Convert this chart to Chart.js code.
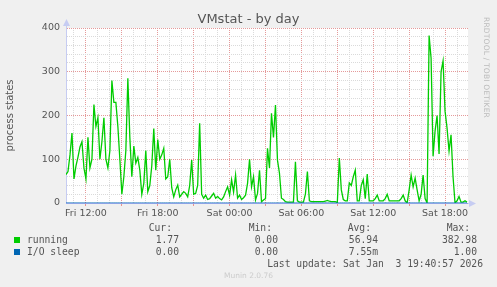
<!DOCTYPE html>
<html lang="en">
<head>
    <meta charset="UTF-8">
    <title>VMstat - by day</title>
    <script src="https://cdn.jsdelivr.net/npm/chart.js"></script>
    <style>
        body { margin: 0; background: #f0f0f0; }
        #wrap { position: relative; width: 497px; height: 287px; overflow: hidden; font-family: 'DejaVu Sans', sans-serif; color: #555; }
        #myChart { position: absolute; left: 0; top: 0; }
        .title { position: absolute; top: 11px; left: 0; width: 497px; text-align: center; font-size: 13px; line-height: 16px; color: #555; }
        .vendor { position: absolute; left: 482px; top: 17px; writing-mode: vertical-rl; font-size: 7.5px; color: #bbb; letter-spacing: 0.2px; }
        .mono { position: absolute; font-family: 'DejaVu Sans Mono', monospace; font-size: 9.7px; line-height: 12px; white-space: pre; color: #555; }
        .r { text-align: right; }
        .sq { position: absolute; width: 6px; height: 6px; }
        .munin { position: absolute; top: 271px; left: 0; width: 497px; text-align: center; font-size: 7.5px; color: #ccc; }
    </style>
</head>
<body>
<div id="wrap">
    <canvas id="myChart" width="497" height="287"></canvas>
    <div class="title">VMstat - by day</div>
    <div class="vendor">RRDTOOL / TOBI OETIKER</div>
    <div id="legend"></div>
    <div class="mono" style="right:14px; top:258px;">Last update: Sat Jan  3 19:40:57 2026</div>
    <div class="munin">Munin 2.0.76</div>
</div>

<script>
    // hours since Fri 00:00, one sample every 10 minutes
    const startHour = 10 + 20 / 60;
    const stepHours = 10 / 60;

    const running = [
        65, 72, 110, 160, 55, 85, 105, 128, 140, 80,
        55, 150, 80, 100, 225, 175, 195, 100, 140, 195,
        100, 80, 120, 280, 230, 230, 175, 100, 20, 60,
        120, 285, 150, 60, 130, 91, 104, 75, 20, 45,
        120, 26, 40, 85, 170, 75, 145, 100, 110, 125,
        55, 60, 100, 35, 14, 30, 41, 14, 20, 26,
        22, 14, 40, 98, 20, 22, 40, 182, 20, 11,
        18, 8, 10, 16, 22, 11, 15, 10, 7, 14,
        26, 37, 18, 53, 25, 64, 11, 18, 8, 12,
        18, 45, 100, 37, 60, 7, 22, 75, 3, 7,
        10, 125, 80, 205, 150, 224, 98, 68, 11, 8,
        3, 2, 2, 2, 2, 94, 5, 2, 2, 2,
        20, 72, 5, 3, 3, 3, 3, 3, 3, 3,
        4, 6, 4, 3, 3, 3, 1, 103, 30, 8,
        5, 5, 46, 40, 60, 75, 5, 5, 40, 53,
        10, 66, 5, 5, 5, 10, 18, 5, 5, 5,
        10, 20, 5, 5, 5, 5, 5, 5, 10, 18,
        5, 0, 30, 64, 37, 57, 30, 5, 20, 64,
        10, 0, 383, 331, 107, 165, 200, 112, 300, 325,
        210, 171, 119, 156, 60, 0, 5, 15, 2, 2,
        5, 2
    ];
    const ioSleep = running.map(() => 0);

    const xTickHours = [12, 18, 24, 30, 36, 42];
    const xTickLabels = ['Fri 12:00', 'Fri 18:00', 'Sat 00:00', 'Sat 06:00', 'Sat 12:00', 'Sat 18:00'];
    const yTickLabels = [0, 100, 200, 300, 400];

    const seriesNames = ['running', 'I/O sleep'];
    const seriesColors = ['#00cc00', '#0066b3'];
    const statHeads = ['Cur:', 'Min:', 'Avg:', 'Max:'];
    const stats = [
        ['1.77', '0.00', '56.94', '382.98'],
        ['0.00', '0.00', '7.55m', '1.00']
    ];

    // legend table under the graph
    const legend = document.getElementById('legend');
    const headEnds = [172, 272, 371, 470];
    const valEnds = [179, 278, 378, 477];
    let html = '';
    statHeads.forEach((h, i) => {
        html += `<div class="mono r" style="right:${497 - headEnds[i]}px; top:222px;">${h}</div>`;
    });
    seriesNames.forEach((name, s) => {
        const top = 234 + s * 12;
        html += `<div class="sq" style="left:14px; top:${top + 3}px; background:${seriesColors[s]};"></div>`;
        html += `<div class="mono" style="left:27px; top:${top}px;">${name}</div>`;
        stats[s].forEach((v, i) => {
            html += `<div class="mono r" style="right:${497 - valEnds[i]}px; top:${top}px;">${v}</div>`;
        });
    });
    legend.innerHTML = html;

    const toPoints = arr => arr.map((v, i) => ({ x: startHour + i * stepHours, y: v }));

    const axisBlue = '#c6ccf2';
    const minorGrid = '#dadada';
    const majorGrid = '#e59a9a';

    const frame = {
        id: 'frame',
        beforeDraw(chart) {
            const { ctx, chartArea: a } = chart;
            ctx.save();
            ctx.fillStyle = '#ffffff';
            ctx.fillRect(a.left, a.top, a.right - a.left, a.bottom - a.top);
            ctx.restore();
        },
        afterDraw(chart) {
            const { ctx, chartArea: a } = chart;
            ctx.save();
            ctx.strokeStyle = axisBlue;
            ctx.fillStyle = axisBlue;
            ctx.lineWidth = 1;
            ctx.beginPath();
            ctx.moveTo(a.left + 0.5, a.top);
            ctx.lineTo(a.left + 0.5, a.top - 4);
            ctx.moveTo(a.right, a.bottom + 0.5);
            ctx.lineTo(a.right + 4, a.bottom + 0.5);
            ctx.stroke();
            // arrow heads
            ctx.beginPath();
            ctx.moveTo(a.left + 0.5, a.top - 9);
            ctx.lineTo(a.left - 3, a.top - 2);
            ctx.lineTo(a.left + 4, a.top - 2);
            ctx.closePath();
            ctx.fill();
            ctx.beginPath();
            ctx.moveTo(a.right + 8, a.bottom + 0.5);
            ctx.lineTo(a.right + 1, a.bottom - 3);
            ctx.lineTo(a.right + 1, a.bottom + 4);
            ctx.closePath();
            ctx.fill();
            ctx.restore();
        }
    };

    const ctx = document.getElementById('myChart').getContext('2d');
    const config = {
        type: 'line',
        data: {
            datasets: [{
                label: seriesNames[1],
                data: toPoints(ioSleep),
                borderColor: seriesColors[1],
                borderWidth: 1,
                pointRadius: 0,
                tension: 0
            }, {
                label: seriesNames[0],
                data: toPoints(running),
                borderColor: seriesColors[0],
                borderWidth: 1.3,
                pointRadius: 0,
                tension: 0
            }]
        },
        plugins: [frame],
        options: {
            responsive: false,
            animation: false,
            devicePixelRatio: 1,
            layout: { padding: { top: 28, right: 29, left: 0, bottom: 0 } },
            plugins: {
                legend: { display: false },
                tooltip: { enabled: false }
            },
            scales: {
                x: {
                    type: 'linear',
                    min: startHour,
                    max: startHour + (running.length - 1) * stepHours + stepHours / 2,
                    afterBuildTicks: scale => {
                        const ticks = [];
                        for (let h = 11; h <= 43; h++) ticks.push({ value: h });
                        scale.ticks = ticks;
                    },
                    afterFit: scale => { scale.height = 84; },
                    grid: {
                        color: c => (c.tick && c.tick.value % 3 === 0) ? majorGrid : minorGrid,
                        lineWidth: 1,
                        tickLength: 3,
                        tickColor: c => (c.tick && c.tick.value % 3 === 0) ? '#e89090' : 'rgba(0,0,0,0)',
                        tickBorderDash: []
                    },
                    border: { color: '#8aa3e6', width: 1, dash: [1, 1], z: 1 },
                    ticks: {
                        autoSkip: false,
                        maxRotation: 0,
                        padding: 2,
                        color: '#555',
                        font: { family: 'DejaVu Sans', size: 9.5 },
                        callback: v => {
                            const i = xTickHours.indexOf(v);
                            return i >= 0 ? xTickLabels[i] : '';
                        }
                    }
                },
                y: {
                    min: 0,
                    max: 400,
                    afterBuildTicks: scale => {
                        const ticks = [];
                        for (let v = 0; v <= 400; v += 20) ticks.push({ value: v });
                        scale.ticks = ticks;
                    },
                    afterFit: scale => { scale.width = 66; },
                    grid: {
                        color: c => (c.tick && c.tick.value % 100 === 0) ? majorGrid : minorGrid,
                        lineWidth: 1,
                        drawTicks: false
                    },
                    border: { color: axisBlue, width: 1, dash: [1, 1] },
                    ticks: {
                        autoSkip: false,
                        padding: 6,
                        color: '#555',
                        font: { family: 'DejaVu Sans', size: 9.5 },
                        callback: v => yTickLabels.includes(v) ? String(v) : ''
                    },
                    title: {
                        display: true,
                        text: 'process states',
                        color: '#555',
                        font: { family: 'DejaVu Sans', size: 10 },
                        padding: { top: 4, bottom: 4 }
                    }
                }
            }
        }
    };

    const myChart = new Chart(ctx, config);
</script>
</body>
</html>
